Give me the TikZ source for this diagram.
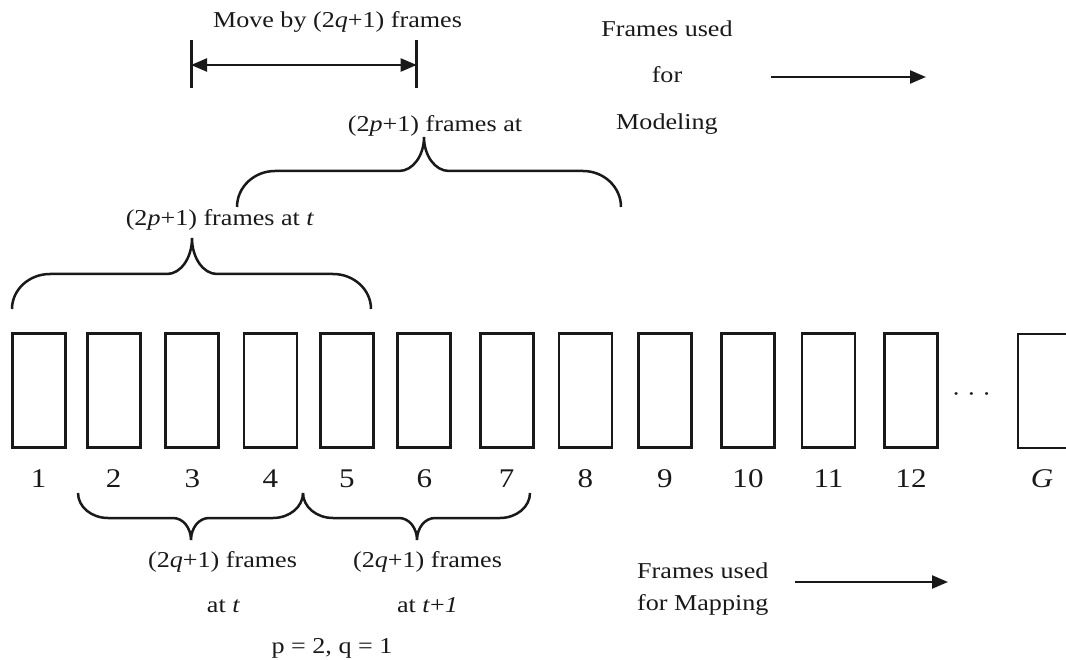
\documentclass[tikz,border=0pt]{standalone}
\usepackage{fontspec}
\setmainfont{Liberation Serif}[FakeStretch=1.15]
\usetikzlibrary{arrows.meta}
\definecolor{ink}{RGB}{25,25,25}

% curly brace: #1,#2 end x; #3 end y; #4 bar y; #5,#6 tip; #7 end radius; #8 tip half-width
\newcommand{\framebrace}[8]{%
  \draw[bracestyle]
    (#1,#3) .. controls (#1,{#3-0.552*(#3-#4)}) and ({#1+0.448*#7},#4) .. ({#1+#7},#4)
    -- ({#5-#8},#4) .. controls ({#5-0.448*#8},#4) and (#5,{#6+0.552*(#4-#6)}) .. (#5,#6)
    .. controls (#5,{#6+0.552*(#4-#6)}) and ({#5+0.448*#8},#4) .. ({#5+#8},#4)
    -- ({#2-#7},#4) .. controls ({#2-0.448*#7},#4) and (#2,{#3-0.552*(#3-#4)}) .. (#2,#3);}

\begin{document}
\begin{tikzpicture}[x=1pt,y=-1pt,
  frame/.style={draw=ink, line width=2.8pt, minimum width=53pt, minimum height=114pt, inner sep=0pt},
  num/.style={anchor=base, font=\fontsize{27}{32}\selectfont, inner sep=0pt, text=ink},
  lbl/.style={anchor=base, font=\fontsize{22.7}{27}\selectfont, inner sep=0pt, text=ink},
  bracestyle/.style={draw=ink, line width=2.5pt},
  arr/.style={draw=ink, line width=2.3pt, -{Triangle[length=16pt,width=13pt]}},
  bar/.style={draw=ink, line width=3pt},
]
\useasboundingbox (0,0) rectangle (1066,660);
\clip (0,0) rectangle (1066,660);

% frames and their numbers
\foreach \i/\x in {1/38.7, 2/113.7, 3/192.3, 4/270.4, 5/347, 6/424.3, 7/506.6,
                   8/585.5, 9/665, 10/748, 11/828.5, 12/911} {
  \node[frame] (f\i) at (\x,390.5) {};
  \node[num] (n\i) at (\x,487) {\i};
}
\node[frame] (fG) at (1044.5,391) {};
\node[num] (nG) at (1042,487) {\textit{G}};
\node[lbl] (dots) at (971.5,402) {· · ·};

% shift of the window
\coordinate (dl1) at (191,40);   \coordinate (dl2) at (191,88);
\coordinate (dr1) at (416.7,40); \coordinate (dr2) at (416.7,88);
\coordinate (ml) at (191,65);    \coordinate (mr) at (416.7,65);
\draw[bar] (dl1) -- (dl2);
\draw[bar] (dr1) -- (dr2);
\draw[draw=ink, line width=2.3pt, {Triangle[length=16pt,width=13pt]}-{Triangle[length=16pt,width=13pt]}] (ml) -- (mr);
\node[lbl] (move) at (337.5,28) {Move by (2\textit{q}+1) frames};

% modeling windows
\framebrace{237}{621}{207}{171}{424}{137}{38}{25}
\node[lbl] (pb) at (435,132) {(2\textit{p}+1) frames at};
\framebrace{12}{371}{309}{274}{192}{238}{38}{25}
\node[lbl] (pa) at (220,226) {(2\textit{p}+1) frames at \textit{t}};

\node[lbl] (mod1) at (667,37) {Frames used};
\node[lbl] (mod2) at (667,83) {for};
\node[lbl] (mod3) at (667,130) {Modeling};
\coordinate (modA) at (771,77); \coordinate (modB) at (926,77);
\draw[arr] (modA) -- (modB);

% mapping windows
\framebrace{78}{303}{493}{518}{191}{540}{30}{18}
\framebrace{303}{530}{493}{518}{417}{540}{30}{18}
\node[lbl] (qa1) at (222.5,567) {(2\textit{q}+1) frames};
\node[lbl] (qa2) at (223.5,612) {at \textit{t}};
\node[lbl] (qb1) at (427.5,567) {(2\textit{q}+1) frames};
\node[lbl] (qb2) at (427.5,612) {at \textit{t}+\textit{1}};
\node[lbl] (pq) at (332,653) {p = 2, q = 1};

\node[lbl, anchor=base west] (map1) at (637,578) {Frames used};
\node[lbl, anchor=base west] (map2) at (637,610) {for Mapping};
\coordinate (mapA) at (795,582); \coordinate (mapB) at (948,582);
\draw[arr] (mapA) -- (mapB);
\end{tikzpicture}
\end{document}
